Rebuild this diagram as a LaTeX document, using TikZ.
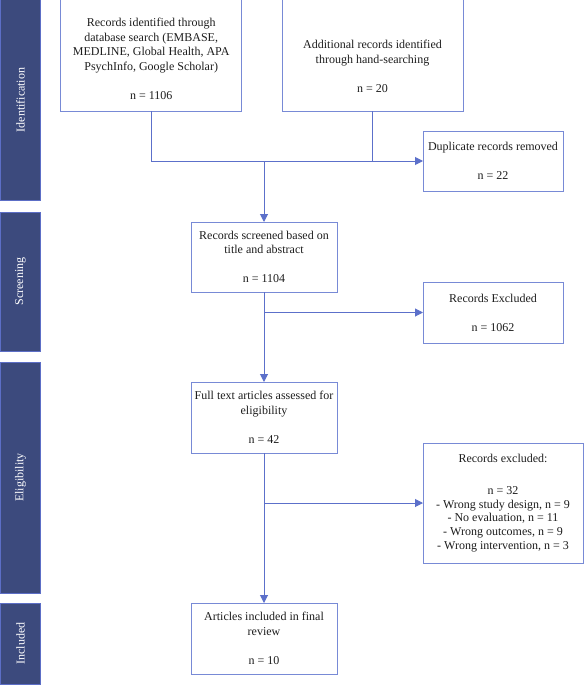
\documentclass[tikz,border=0pt]{standalone}
\usepackage{fontspec}
\setmainfont{Liberation Serif}
\usetikzlibrary{arrows.meta}
\definecolor{linec}{RGB}{92,112,202}
\definecolor{boxc}{RGB}{120,138,214}
\definecolor{barfill}{RGB}{60,74,125}
\definecolor{barline}{RGB}{92,110,198}
\definecolor{txtc}{RGB}{30,30,30}
\tikzset{
  box/.style={draw=boxc, line width=1pt, fill=white, inner sep=0pt, outer sep=0pt, text=txtc, align=center,
    font=\fontsize{12}{14.5}\selectfont},
  txt/.style={inner sep=0pt, text=txtc, align=center, font=\fontsize{12}{14.5}\selectfont},
  bar/.style={draw=barline, line width=1pt, fill=barfill, inner sep=0pt, outer sep=0pt},
  barlab/.style={text=white, rotate=90, inner sep=0pt, font=\fontsize{12}{14}\selectfont},
  conn/.style={draw=linec, line width=1pt},
  arr/.style={conn, -{Triangle[length=8pt,width=8pt]}}
}
\begin{document}
\begin{tikzpicture}[x=1pt,y=-1pt]
\useasboundingbox (0,0) rectangle (584,685);
% phase bars
\node[bar, minimum width=40.5pt, minimum height=200pt] (barI) at (20.5,100) {};
\node[barlab] (labI) at (barI.center) {Identification};
\node[bar, minimum width=40.5pt, minimum height=139pt] (barS) at (20.5,281.5) {};
\node[barlab] (labS) at (barS.center) {Screening};
\node[bar, minimum width=40.5pt, minimum height=231pt] (barE) at (20.5,477.5) {};
\node[barlab] (labE) at (barE.center) {Eligibility};
\node[bar, minimum width=40.5pt, minimum height=81pt] (barN) at (20.5,643.5) {};
\node[barlab] (labN) at (barN.center) {Included};
% boxes
\node[box, minimum width=181pt, minimum height=111pt] (b1) at (151.2,55.5) {};
\node[txt] (b1t) at ([yshift=-3.5pt]b1.center) {Records identified through\\database search (EMBASE,\\MEDLINE, Global Health, APA\\PsychInfo, Google Scholar)\\[14.5pt]n = 1106};
\node[box, minimum width=181pt, minimum height=111pt] (b2) at (372.5,55.5) {};
\node[txt] (b2t) at ([yshift=-11pt]b2.center) {Additional records identified\\through hand-searching\\[14.5pt]n = 20};
\node[box, minimum width=140pt, minimum height=60pt] (dup) at (493,161) {Duplicate records removed\\[14.5pt]n = 22};
\node[box, minimum width=146pt, minimum height=70pt] (scr) at (264,257) {Records screened based on\\title and abstract\\[14.5pt]n = 1104};
\node[box, minimum width=140pt, minimum height=61pt] (exc) at (493,312.5) {Records Excluded\\[14.5pt]n = 1062};
\node[box, minimum width=146pt, minimum height=71pt] (ful) at (264,417.5) {Full text articles assessed for\\eligibility\\[14.5pt]n = 42};
\node[box, minimum width=160pt, minimum height=120pt, font=\fontsize{12}{13.7}\selectfont] (exc2) at (503,503) {Records excluded:\\[18pt]n = 32\\- Wrong study design, n = 9\\- No evaluation, n = 11\\- Wrong outcomes, n = 9\\- Wrong intervention, n = 3};
\node[box, minimum width=146pt, minimum height=71pt] (fin) at (264,638.5) {Articles included in final\\review\\[14.5pt]n = 10};
% connectors
\coordinate (j1) at (scr.north |- dup.west);
\coordinate (j2) at (scr.south |- exc.west);
\coordinate (j3) at (ful.south |- exc2.west);
\draw[conn] (b1.south) |- (j1);
\draw[conn] (b2.south) -- (b2.south |- dup.west);
\draw[arr] (j1) -- (dup.west);
\draw[arr] (j1) -- (scr.north);
\draw[arr] (scr.south) -- (ful.north);
\draw[arr] (j2) -- (exc.west);
\draw[arr] (ful.south) -- (fin.north);
\draw[arr] (j3) -- (exc2.west);
\end{tikzpicture}
\end{document}
